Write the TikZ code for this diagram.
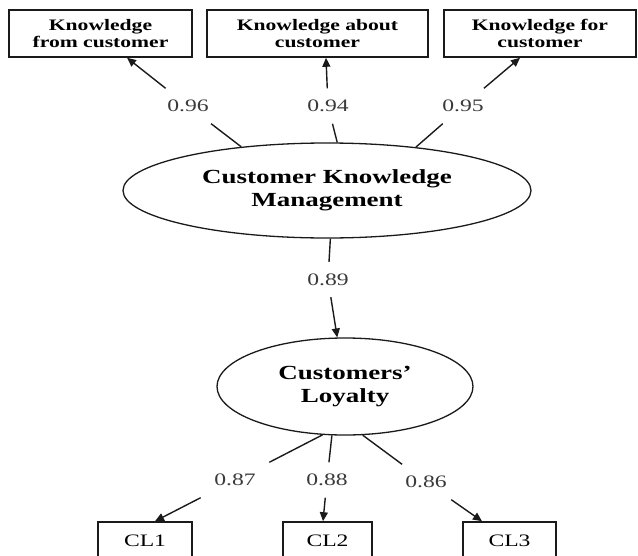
\documentclass[tikz,border=0pt]{standalone}
\usepackage{fontspec}
\setmainfont{Liberation Serif}[FakeStretch=1.35]
\usetikzlibrary{shapes.geometric,arrows.meta,calc}
\definecolor{ink}{HTML}{1A1A1A}
\definecolor{numgray}{HTML}{3A3A3A}
\tikzset{
  indicator/.style={draw=ink, line width=1.6pt, rectangle, inner sep=0pt,
    align=center, font=\fontsize{16}{17}\selectfont\bfseries},
  observed/.style={draw=ink, line width=1.6pt, rectangle, inner sep=0pt,
    font=\fontsize{17.5}{18}\selectfont},
  latent/.style={draw=ink, line width=1.3pt, ellipse, inner sep=0pt,
    align=center, font=\fontsize{20}{23}\selectfont\bfseries},
  loading/.style={inner sep=0pt, minimum width=70pt, minimum height=35pt,
    text=numgray, font=\fontsize{17.5}{18}\selectfont},
  link/.style={draw=ink, line width=1.4pt},
  arrowlink/.style={link, -{Triangle[length=9pt,width=8pt]}},
}
\begin{document}
\begin{tikzpicture}[x=1pt,y=-1pt]
\useasboundingbox (0,0) rectangle (638,555);

% knowledge dimensions
\node[indicator, minimum width=183pt, minimum height=47pt] (kfc) at (100.5,33.5) {Knowledge\\from customer};
\node[indicator, minimum width=221pt, minimum height=47pt] (kac) at (317.5,33.5) {Knowledge about\\customer};
\node[indicator, minimum width=192pt, minimum height=47pt] (kfo) at (540,33.5) {Knowledge for\\customer};

% latent constructs
\node[latent, minimum width=408pt, minimum height=95pt] (ckm) at (327,190.5) {Customer Knowledge\\Management};
\node[latent, minimum width=256pt, minimum height=97pt] (clo) at (345,386.5) {Customers'\\Loyalty};

% loyalty items
\node[observed, minimum width=94pt, minimum height=37pt] (cl1) at (145,540.5) {CL1};
\node[observed, minimum width=89pt, minimum height=37pt] (cl2) at (327.5,540.5) {CL2};
\node[observed, minimum width=93pt, minimum height=37pt] (cl3) at (509.5,540.5) {CL3};

% loadings
\node[loading] (l96) at (188,106) {0.96};
\node[loading] (l94) at (328,106) {0.94};
\node[loading] (l95) at (463,106) {0.95};
\node[loading] (l89) at (328,279.5) {0.89};
\node[loading] (l87) at (235,480) {0.87};
\node[loading] (l88) at (327,480) {0.88};
\node[loading] (l86) at (426,482) {0.86};

% paths from CKM to its dimensions
\draw[link] (ckm.153) -- (l96);
\draw[arrowlink] (l96) -- ($(kfc.south)+(26.5,0)$);
\draw[link] (ckm.78) -- (l94);
\draw[arrowlink] (l94) -- ($(kac.south)+(8.5,0)$);
\draw[link] (ckm.26) -- (l95);
\draw[arrowlink] (l95) -- ($(kfo.south)+(-20,0)$);

% structural path
\draw[link] (ckm.274) -- (l89);
\draw[arrowlink] (l89) -- (clo.99);

% paths from loyalty to its items
\draw[link] (clo.245) -- (l87);
\draw[arrowlink] (l87) -- ($(cl1.north)+(10,0)$);
\draw[link] (clo.255) -- (l88);
\draw[arrowlink] (l88) -- ($(cl2.north)+(-4.5,0)$);
\draw[link] (clo.290) -- (l86);
\draw[arrowlink] (l86) -- ($(cl3.north)+(-27.5,0)$);
\end{tikzpicture}
\end{document}
